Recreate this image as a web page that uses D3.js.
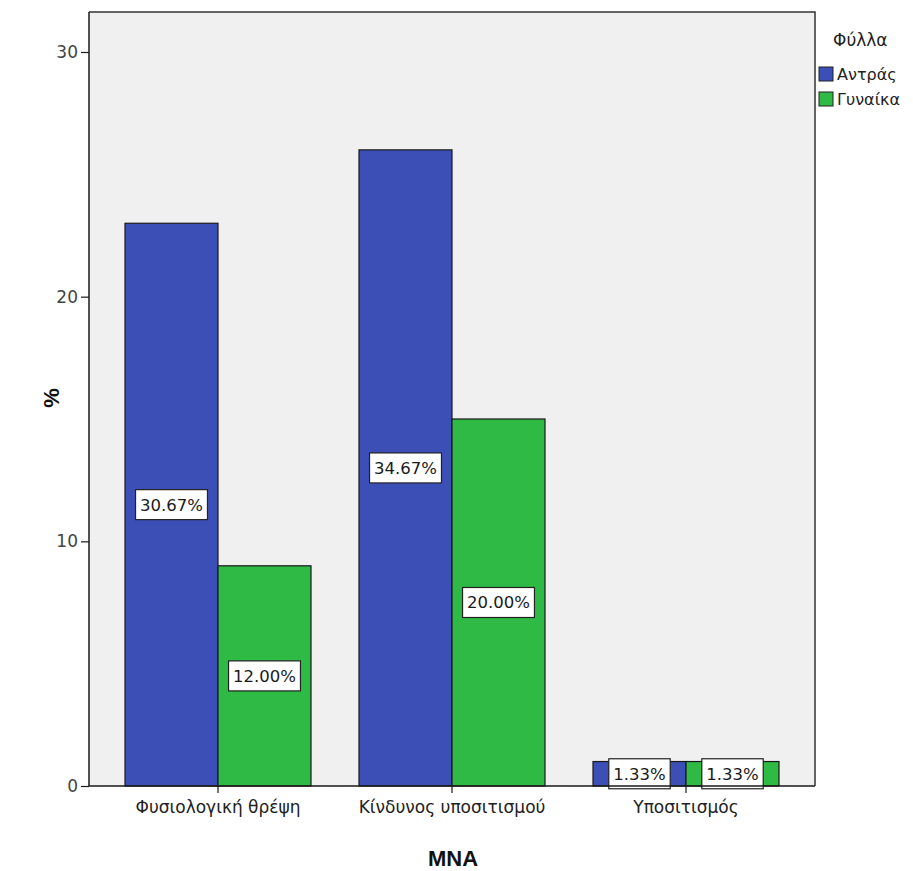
<!DOCTYPE html>
<html>
<head>
<meta charset="utf-8">
<script src="https://cdn.jsdelivr.net/npm/d3@7"></script>
<style>
  html, body { margin: 0; padding: 0; background: #ffffff; }
  svg { display: block; font-family: "DejaVu Sans", Verdana, sans-serif; }
</style>
</head>
<body>
<svg id="chart" width="913" height="871"></svg>
<script>
// MNA categories and counts per sex (n = 75)
const categories = ["Φυσιολογική θρέψη", "Κίνδυνος υποσιτισμού", "Υποσιτισμός"];
const seriesNames = ["Αντράς", "Γυναίκα"];
const menCounts = [23, 26, 1];
const womenCounts = [9, 15, 1];
const totalN = 75;
const yTicks = [0, 10, 20, 30];
const seriesColors = ["#3b4fb7", "#2fba45"];

const FONT = "DejaVu Sans, Verdana, sans-serif";
const svg = d3.select("#chart");

const frame = { left: 89, top: 12, right: 815, bottom: 786 };

// y: counts; top of frame sits a little above 30
const y = d3.scaleLinear().domain([0, 30]).range([frame.bottom, 52]);

const x0 = d3.scaleBand().domain(categories).range([101, 803]).paddingInner(0).paddingOuter(0);
const x1 = d3.scaleBand().domain(seriesNames).range([24, x0.bandwidth() - 24]).padding(0);

const rows = categories.map((c, i) => ({
  category: c,
  values: [
    { series: seriesNames[0], count: menCounts[i] },
    { series: seriesNames[1], count: womenCounts[i] }
  ]
}));

// plot background
svg.append("rect")
  .attr("x", frame.left).attr("y", frame.top)
  .attr("width", frame.right - frame.left).attr("height", frame.bottom - frame.top)
  .attr("fill", "#f0f0f0");

// bars
const groups = svg.append("g").selectAll("g")
  .data(rows).join("g")
  .attr("transform", d => `translate(${x0(d.category)},0)`);

groups.selectAll("rect.bar")
  .data(d => d.values).join("rect")
  .attr("class", "bar")
  .attr("x", d => x1(d.series))
  .attr("y", d => y(d.count))
  .attr("width", x1.bandwidth())
  .attr("height", d => y(0) - y(d.count))
  .attr("fill", (d, i) => seriesColors[i])
  .attr("stroke", "#1a1a1a")
  .attr("stroke-width", 1.2);

// value labels (percent of total), boxed at bar middle
const fmt = v => (v / totalN * 100).toFixed(2) + "%";
const labels = groups.selectAll("g.lab")
  .data(d => d.values).join("g")
  .attr("class", "lab")
  .attr("transform", d => `translate(${x1(d.series) + x1.bandwidth() / 2},${(y(d.count) + y(0)) / 2})`);

labels.each(function(d) {
  const g = d3.select(this);
  const t = g.append("text")
    .attr("text-anchor", "middle")
    .attr("dy", "0.36em")
    .attr("font-size", 16.5)
    .attr("fill", "#1a1a1a")
    .text(fmt(d.count));
  const w = t.node().getComputedTextLength() + 9;
  g.insert("rect", "text")
    .attr("x", -w / 2).attr("y", -15)
    .attr("width", w).attr("height", 30)
    .attr("fill", "#ffffff")
    .attr("stroke", "#222")
    .attr("stroke-width", 1.2);
});

// frame top/right
svg.append("path")
  .attr("d", `M${frame.left},${frame.top}H${frame.right}V${frame.bottom}`)
  .attr("fill", "none").attr("stroke", "#333").attr("stroke-width", 1.5);

// y axis
const yAxis = svg.append("g")
  .attr("transform", `translate(${frame.left},0)`)
  .call(d3.axisLeft(y).tickValues(yTicks).tickSize(8).tickPadding(3).tickSizeOuter(0));
yAxis.select(".domain").remove();
yAxis.append("line")
  .attr("x1", 0).attr("x2", 0).attr("y1", frame.top).attr("y2", frame.bottom)
  .attr("stroke", "#1a1a1a").attr("stroke-width", 1.5);
yAxis.selectAll(".tick line").attr("stroke", "#1a1a1a").attr("stroke-width", 1.2);
yAxis.selectAll(".tick text")
  .attr("font-size", 17).attr("fill", "#444")
  .attr("font-family", FONT);

// x axis
const xAxis = svg.append("g")
  .attr("transform", `translate(0,${frame.bottom})`)
  .call(d3.axisBottom(x0).tickSize(7).tickPadding(8).tickSizeOuter(0));
xAxis.select(".domain").remove();
xAxis.append("line")
  .attr("x1", frame.left).attr("x2", frame.right)
  .attr("stroke", "#1a1a1a").attr("stroke-width", 1.5);
xAxis.selectAll(".tick line").attr("stroke", "#1a1a1a").attr("stroke-width", 1.2);
xAxis.selectAll(".tick text")
  .attr("font-size", 17).attr("fill", "#222")
  .attr("font-family", FONT);

// axis titles
svg.append("text")
  .attr("x", 453).attr("y", 866)
  .attr("text-anchor", "middle")
  .attr("font-family", "Liberation Sans, Arial, sans-serif")
  .attr("font-size", 22).attr("font-weight", "bold").attr("fill", "#111")
  .text("MNA");

svg.append("text")
  .attr("transform", "translate(59,398) rotate(-90)")
  .attr("text-anchor", "middle")
  .attr("font-family", "Liberation Sans, Arial, sans-serif")
  .attr("font-size", 22).attr("font-weight", "bold").attr("fill", "#111")
  .text("%");

// legend
const legend = svg.append("g").attr("transform", "translate(819,0)");
legend.append("text")
  .attr("x", 14).attr("y", 46)
  .attr("font-size", 17).attr("fill", "#222")
  .text("Φύλλα");
seriesNames.forEach((name, i) => {
  const yy = 67 + i * 25;
  legend.append("rect")
    .attr("x", 0).attr("y", yy).attr("width", 14).attr("height", 14)
    .attr("fill", seriesColors[i]).attr("stroke", "#222").attr("stroke-width", 1);
  legend.append("text")
    .attr("x", 18).attr("y", yy + 13)
    .attr("font-size", 16).attr("fill", "#222")
    .text(name);
});
</script>
</body>
</html>
